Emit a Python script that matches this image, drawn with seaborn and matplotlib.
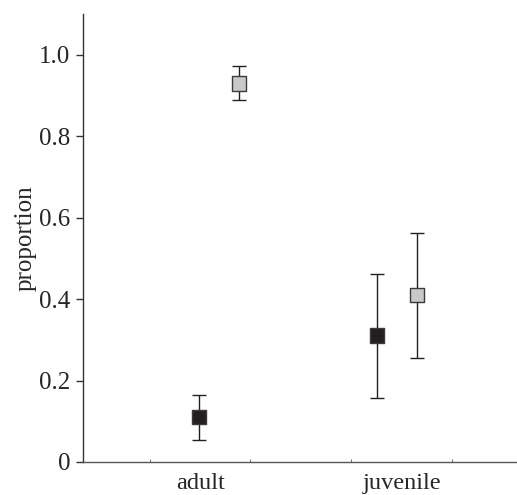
import numpy as np
import pandas as pd
import matplotlib
matplotlib.use('Agg')
import matplotlib.pyplot as plt
import seaborn as sns

# values
categories = ['adult', 'juvenile']
groups = ['black', 'grey']
black_mean = [0.11, 0.31]
black_low = [0.055, 0.158]
black_high = [0.165, 0.462]
grey_mean = [0.93, 0.41]
grey_low = [0.888, 0.255]
grey_high = [0.972, 0.563]

# horizontal placement of each marker within its category
offsets = {'black': [-0.005, -0.124], 'grey': [0.193, 0.074]}
colors = {'black': '#231f20', 'grey': '#c8c9cb'}

rows = []
for g, m, lo, hi in [('black', black_mean, black_low, black_high),
                     ('grey', grey_mean, grey_low, grey_high)]:
    for i, c in enumerate(categories):
        rows.append({'category': c, 'group': g, 'x': i + offsets[g][i],
                     'proportion': m[i], 'low': lo[i], 'high': hi[i]})
df = pd.DataFrame(rows)

sns.set_style('ticks')
plt.rcParams['font.family'] = ['Liberation Serif', 'DejaVu Serif']

fig = plt.figure(figsize=(5.17, 4.95), dpi=100)
ax = fig.add_axes([0.1605, 0.0667, 0.8395, 0.905])

# error bars first so the markers sit on top
for g in groups:
    sub = df[df['group'] == g]
    ax.errorbar(sub['x'], sub['proportion'],
                yerr=[sub['proportion'] - sub['low'], sub['high'] - sub['proportion']],
                fmt='none', ecolor='#231f20', elinewidth=1.0, capsize=4.7, capthick=1.0, zorder=2)

sns.scatterplot(data=df, x='x', y='proportion', hue='group', palette=colors,
                marker='s', s=110, edgecolor='#3a3a3a', linewidth=1.0,
                legend=False, zorder=3, ax=ax)

ax.set_xlim(-0.58, 1.57)
ax.set_ylim(0, 1.1)
ax.set_yticks([0, 0.2, 0.4, 0.6, 0.8, 1.0])
ax.set_yticklabels(['0', '0.2', '0.4', '0.6', '0.8', '1.0'])
ax.set_xticks([0, 1])
ax.set_xticklabels(categories)
ax.set_xticks([-0.25, 0.245, 0.75, 1.25], minor=True)
ax.tick_params(axis='x', which='major', length=0, pad=8, labelsize=17.5)
ax.tick_params(axis='x', which='minor', length=2, direction='in', color='#555555')
ax.tick_params(axis='y', length=5, width=1, labelsize=18, color='#333333', pad=4)
ax.set_xlabel('')
ax.set_ylabel('proportion', fontsize=18, labelpad=2)

sns.despine(ax=ax, right=True, top=True)
ax.spines['left'].set_color('#333333')
ax.spines['bottom'].set_color('#555555')
ax.spines['left'].set_linewidth(1.0)
ax.spines['bottom'].set_linewidth(1.0)

fig.savefig('out.png', dpi=100)
